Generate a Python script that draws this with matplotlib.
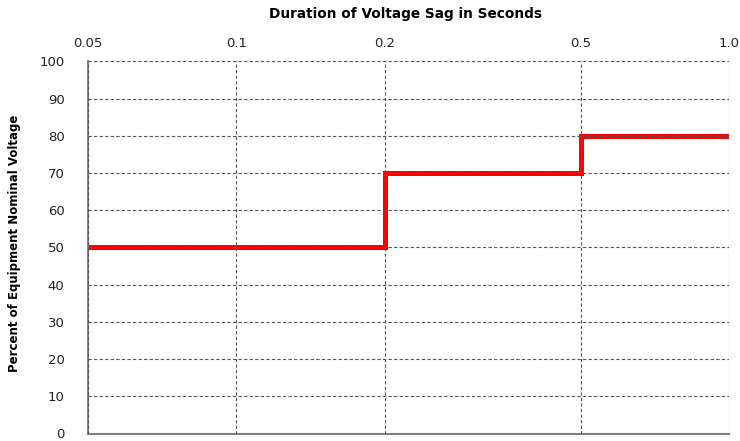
import matplotlib.pyplot as plt
from matplotlib.ticker import FixedLocator, FixedFormatter, NullLocator

plt.rcParams['font.family'] = ['DejaVu Sans']

# step curve: duration (s) vs percent of nominal voltage
duration = [0.05, 0.2, 0.2, 0.5, 0.5, 1.0]
percent = [50, 50, 70, 70, 80, 80]

x_ticks = [0.05, 0.1, 0.2, 0.5, 1.0]
x_labels = ['0.05', '0.1', '0.2', '0.5', '1.0']
y_ticks = [0, 10, 20, 30, 40, 50, 60, 70, 80, 90, 100]

fig = plt.figure(figsize=(7.4, 4.41), dpi=100)
ax = fig.add_axes([88/740, 7.5/441, 641/740, 372/441])

ax.plot(duration, percent, color='#ff0000', lw=3.6, solid_joinstyle='miter', zorder=2)

ax.set_xscale('log')
ax.set_xlim(0.05, 1.0)
ax.set_ylim(0, 100)
ax.xaxis.set_major_locator(FixedLocator(x_ticks))
ax.xaxis.set_major_formatter(FixedFormatter(x_labels))
ax.xaxis.set_minor_locator(NullLocator())
ax.set_yticks(y_ticks)
ax.xaxis.tick_top()
ax.tick_params(axis='x', length=0, pad=8, labelsize=9.5, colors='#222222')
ax.tick_params(axis='y', length=0, pad=17, labelsize=9.5, colors='#222222')

ax.grid(True, which='major', color='#555555', ls=(0, (3, 2)), lw=0.8, zorder=3)
ax.set_axisbelow(False)

for s in ['top', 'right']:
    ax.spines[s].set_visible(False)
for s in ['left', 'bottom']:
    ax.spines[s].set_color('#808080')
    ax.spines[s].set_linewidth(1.5)

ax.set_ylabel('Percent of Equipment Nominal Voltage', fontsize=8.5,
              fontweight='bold')
ax.yaxis.set_label_coords(-67/641, 0.51)
fig.text(406/740, 1 - 14/441, 'Duration of Voltage Sag in Seconds',
         ha='center', va='center', fontsize=9.8, fontweight='bold')

fig.savefig('out.png', dpi=100)
